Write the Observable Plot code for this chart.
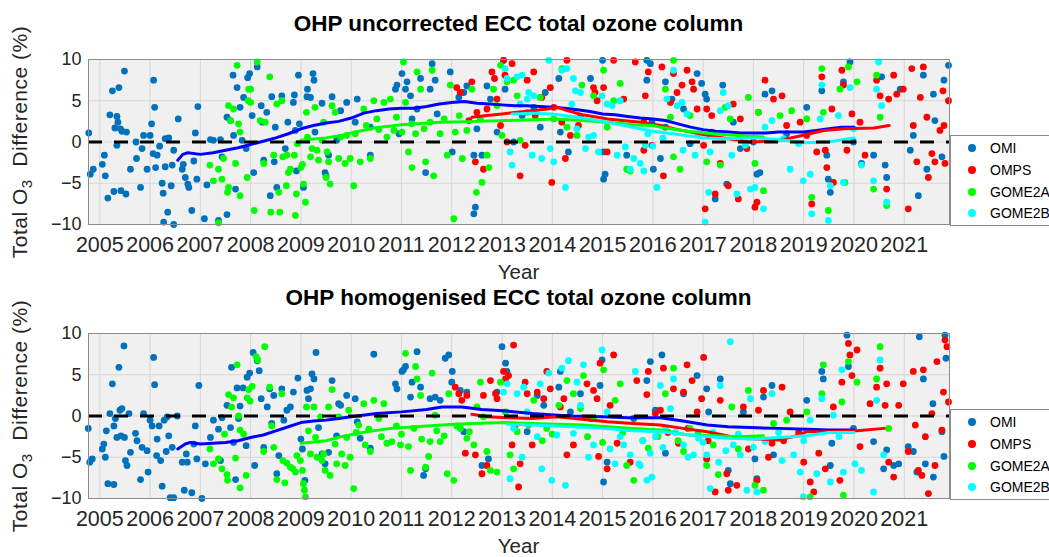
<!DOCTYPE html>
<html><head><meta charset="utf-8">
<script src="https://cdn.jsdelivr.net/npm/d3@7"></script>
<script src="https://cdn.jsdelivr.net/npm/@observablehq/plot@0.6"></script>
<style>
body{margin:0;background:#fff;}
#wrap{position:relative;width:1049px;height:557px;overflow:hidden;background:#fff;font-family:"Liberation Sans",Arial,sans-serif;color:#262626;}
.panel{position:absolute;left:0;}
.title{position:absolute;left:88px;width:861px;text-align:center;font-weight:bold;font-size:22.5px;line-height:26px;color:#000;}
.xlab{position:absolute;left:88px;width:861px;text-align:center;font-size:20.5px;line-height:16px;}
.ylab{position:absolute;width:280px;height:24px;line-height:24px;text-align:center;font-size:21px;letter-spacing:0.5px;transform:rotate(-90deg);white-space:nowrap;}
.ylab sub{font-size:15px;vertical-align:-5px;line-height:0;}
.legend{position:absolute;left:950px;width:120px;height:89px;border:1px solid #8c8c8c;background:#fff;font-size:14px;}
.legend .it{position:absolute;left:0;height:16px;line-height:16px;}
.legend .dot{position:absolute;left:17px;top:4px;width:8px;height:8px;border-radius:50%;}
.legend .tx{position:absolute;left:39px;top:0;white-space:nowrap;color:#000;}
</style>
</head><body>
<div id="wrap"></div>
<script>
// ---------- data ----------
const years = [2005,2006,2007,2008,2009,2010,2011,2012,2013,2014,2015,2016,2017,2018,2019,2020,2021];
const yTicks = [-10,-5,0,5,10];
const seriesNames = ["OMI","OMPS","GOME2A","GOME2B"];
const dotColors = ["#0072BD","#FF0000","#00FF00","#00FFFF"];
const lineColors = ["#0000FF","#FF0000","#00FF00","#00FFFF"];
const titles = ["OHP uncorrected ECC total ozone column","OHP homogenised ECC total ozone column"];

// ---- top panel: uncorrected ----
const omiTop = [[2004.78,1.1],[2004.81,-3.9],[2004.87,-3.3],[2005.05,-2.7],[2005.11,-4.1],[2005.09,-1.6],[2005.16,-6.8],[2005.2,3.3],[2005.25,6.2],[2005.28,-6.0],[2005.3,1.7],[2005.34,-0.4],[2005.34,3.1],[2005.38,6.6],[2005.36,2.4],[2005.41,1.6],[2005.42,-5.9],[2005.44,1.3],[2005.49,8.6],[2005.52,-6.3],[2005.53,1.2],[2005.61,-3.3],[2005.72,0],[2005.73,-2.0],[2005.81,-5.5],[2005.84,-0.8],[2005.87,0.8],[2005.94,-3.3],[2006.0,0.8],[2006.03,2.2],[2006.07,7.5],[2006.09,4.2],[2006.06,-1.4],[2006.11,-3.1],[2006.14,-1.6],[2006.19,-0.5],[2006.24,-5.0],[2006.26,-6.2],[2006.27,-9.7],[2006.3,0.4],[2006.3,-3.0],[2006.35,-8.5],[2006.37,0.5],[2006.42,-5.3],[2006.44,-2.8],[2006.47,-10],[2006.47,-1.0],[2006.56,2.8],[2006.64,-3.3],[2006.66,-2.7],[2006.7,-4.3],[2006.75,-5.1],[2006.77,-5.5],[2006.83,-8.3],[2006.87,-2.3],[2006.9,1.1],[2006.95,4.3],[2006.93,-4.5],[2007.08,-9.3],[2007.13,-5.2],[2007.2,0.3],[2007.26,0.2],[2007.36,-9.5],[2007.4,0.3],[2007.43,-1.8],[2007.53,-8.8],[2007.53,3.0],[2007.6,2.6],[2007.65,8.1],[2007.66,0.8],[2007.7,-5.7],[2007.73,6.6],[2007.79,4.2],[2007.83,0.2],[2007.86,5.4],[2007.91,-0.8],[2007.94,7.8],[2007.98,8.3],[2008.03,3.2],[2008.06,-3.7],[2008.13,9.1],[2008.21,4.4],[2008.23,2.4],[2008.26,-2.2],[2008.32,3.6],[2008.39,-6.5],[2008.42,5.5],[2008.47,-2.4],[2008.49,1.8],[2008.52,-5.5],[2008.62,5.6],[2008.69,-0.8],[2008.74,2.4],[2008.85,4.8],[2008.87,5.7],[2008.89,1.4],[2008.91,-3.5],[2008.95,8.1],[2008.97,2.2],[2009.05,-5.5],[2009.12,5.5],[2009.13,6.4],[2009.19,5.4],[2009.24,8.3],[2009.26,7.5],[2009.28,1.2],[2009.42,4.7],[2009.48,-3.7],[2009.5,-4.1],[2009.55,-1.6],[2009.62,5.5],[2009.71,0.2],[2009.79,3.8],[2009.91,4.8],
[2010.08,2.4],[2010.12,5.2],[2010.38,1.8],[2010.38,-1.6],[2010.95,1.0],[2010.88,6.4],[2010.91,6.9],[2011.01,8.3],[2011.08,6.4],[2011.11,7.3],[2011.18,5.6],[2011.21,2.8],[2011.31,4.0],[2011.48,-3.7],[2011.38,7.7],[2011.57,6.4],[2011.61,9.5],[2011.67,7.5],[2011.71,3.4],[2011.97,8.5],[2012.01,-1.2],[2012.14,5.4],[2012.24,6.0],[2012.3,6.8],[2012.44,-1.6],[2012.47,-7.9],[2012.44,-8.7],[2012.5,1.6],[2012.6,-1.6],[2012.7,6.8],[2012.77,5.2],[2012.9,1.2],[2013.06,6.4],[2013.03,9.9],[2013.23,0],[2013.4,3.2],[2013.63,4.2],[2013.76,1.8],[2013.86,6.0],[2014.13,7.7],[2014.16,1.2],[2014.32,-1.2],[2014.56,3.0],[2014.76,7.7],[2015.0,9.9],[2015.02,-1.2],[2015.05,-3.9],[2015.02,-4.5],[2015.48,-1.6],
[2015.88,9.9],[2015.95,9.5],[2016.25,7.3],[2015.88,7.5],[2015.98,2.4],[2016.01,-3.3],[2016.15,-2.0],[2016.25,1.8],[2016.38,5.2],[2016.61,4.0],[2016.74,-0.2],[2016.88,8.3],[2016.97,7.1],[2017.04,5.8],[2017.07,5.2],[2017.17,1.2],[2017.24,-6.9],[2017.39,6.9],[2017.47,-5.1],[2017.6,2.4],[2017.74,-0.8],[2018.0,0],[2018.07,-3.9],[2018.13,-3.7],[2018.23,5.8],[2018.37,6.2],[2018.66,1.0],[2019.06,4.2],[2019.36,6.2],[2019.46,-1.6],[2019.49,-4.5],[2019.53,-6.1],[2019.79,7.3],[2019.92,9.7],[2019.99,0],[2020.15,-2.6],[2020.39,-1.6],[2020.55,7.9],[2020.62,-2.8],[2020.65,-4.3],[2020.92,6.4],[2021.12,-1.0],[2021.18,0.8],[2021.28,-6.5],[2021.38,8.1],[2021.45,-3.3],[2021.58,5.8],[2021.61,2.6],[2021.75,-1.8],[2021.79,7.5],[2021.88,9.3]];

const ompsTop = [[2012.1,6.6],[2012.17,6.0],[2012.34,2.6],[2012.4,7.3],[2012.47,-2.4],[2012.5,3.6],[2012.63,-3.3],[2012.7,4.0],[2012.8,8.5],[2012.85,7.7],[2012.9,5.2],[2012.97,2.0],[2013.03,9.9],[2013.06,8.1],[2013.1,0],[2013.2,9.5],[2013.36,-4.1],[2013.46,-0.4],[2013.5,7.5],[2013.63,8.5],[2013.66,3.2],[2013.79,5.4],[2013.96,6.6],[2013.99,-4.9],[2014.03,4.2],[2014.19,2.4],[2014.26,-2.0],[2014.29,9.9],[2014.36,0.8],[2014.52,2.0],[2014.82,6.6],[2014.85,6.0],[2014.89,5.0],[2015.02,6.6],[2015.09,-1.2],[2015.22,9.9],[2015.42,5.2],[2015.65,9.7],
[2015.85,5.6],[2015.91,8.5],[2015.82,2.4],[2015.82,-1.0],[2015.98,-0.4],[2016.18,9.1],[2016.21,-4.1],[2016.35,4.8],[2016.41,8.3],[2016.48,6.0],[2016.58,6.9],[2016.68,8.7],[2016.78,7.3],[2016.81,6.4],[2016.88,4.0],[2017.01,-0.4],[2017.04,-8.1],[2017.07,4.0],[2017.17,3.2],[2017.24,-6.3],[2017.34,-2.6],[2017.5,-5.3],[2017.6,4.6],[2017.7,-6.9],[2017.74,2.8],[2017.87,-0.8],[2018.03,-7.9],[2018.07,-7.3],[2018.1,3.6],[2018.23,7.5],[2018.4,5.2],[2018.57,5.6],[2018.66,2.0],[2018.93,2.4],[2019.06,0.8],[2019.16,-7.5],[2019.26,-1.2],[2019.36,7.9],[2019.43,-1.0],[2019.46,-3.1],[2019.56,4.0],[2019.59,-4.9],[2019.76,8.7],[2019.79,6.9],[2019.86,-1.0],[2019.96,3.4],[2020.12,2.4],[2020.22,-1.6],[2020.45,7.5],[2020.52,5.6],[2020.65,-5.7],[2020.69,5.2],[2020.79,8.1],[2020.85,5.8],[2020.98,6.4],[2021.08,-8.1],[2021.15,8.9],[2021.18,2.0],[2021.25,-2.4],[2021.32,5.4],[2021.38,9.1],[2021.45,3.0],[2021.48,-4.3],[2021.55,-1.4],[2021.61,-2.4],[2021.71,1.4],[2021.77,6.2],[2021.79,2.0],[2021.81,-2.6],[2021.88,5.0]];

const gome2aTop = [[2007.19,-2.8],[2007.26,-4.7],[2007.36,-3.3],[2007.36,-9.8],[2007.43,-4.5],[2007.46,-2.0],[2007.54,-6.1],[2007.56,-5.5],[2007.56,4.4],[2007.6,2.6],[2007.66,4.0],[2007.7,-2.6],[2007.73,9.3],[2007.76,2.2],[2007.79,-6.5],[2007.79,1.2],[2007.93,-4.3],[2007.95,5.0],[2007.96,6.4],[2008.0,6.4],[2008.0,4.8],[2008.07,-8.3],[2008.13,9.7],[2008.19,2.6],[2008.26,-2.6],[2008.29,2.4],[2008.38,7.9],[2008.4,-8.5],[2008.46,-1.6],[2008.52,4.6],[2008.56,-6.1],[2008.58,-8.5],[2008.62,5.0],[2008.64,-1.8],[2008.71,-5.3],[2008.72,-1.6],[2008.75,-3.7],[2008.79,-3.3],[2008.87,-1.6],[2008.89,-8.9],[2008.91,-6.3],[2008.93,-0.2],[2009.0,-3.1],[2009.03,-2.7],[2009.05,-5.1],[2009.09,-7.3],[2009.11,3.6],[2009.13,0.6],[2009.19,-1.8],[2009.22,-0.8],[2009.28,4.2],[2009.32,-1.0],[2009.35,-2.2],[2009.42,0.2],[2009.45,2.4],[2009.5,-4.3],[2009.52,-1.2],[2009.55,-2.4],[2009.58,-5.1],[2009.62,4.4],[2009.68,3.6],[2009.75,-2.0],[2009.79,0.6],[2009.88,-2.6],[2009.91,0.8],
[2009.98,-2.0],[2010.05,-5.3],[2010.08,1.0],[2010.25,4.0],[2010.18,-2.4],[2010.38,-2.0],[2010.45,5.0],[2010.51,2.8],[2010.65,4.8],[2010.71,0.6],[2010.78,5.2],[2010.85,1.4],[2011.01,1.2],[2011.04,9.7],[2011.08,4.8],[2011.14,-1.2],[2011.21,-3.1],[2011.28,1.0],[2011.31,8.5],[2011.38,6.4],[2011.48,-2.4],[2011.57,2.4],[2011.61,8.7],[2011.64,-4.1],[2011.77,1.0],[2011.91,-1.6],[2011.97,6.9],[2012.04,-9.3],[2012.07,1.2],[2012.21,-2.0],[2012.3,1.4],[2012.4,6.4],[2012.49,-6.1],[2012.57,2.8],[2012.6,-4.9],[2012.7,-1.6],[2012.74,-3.1],[2012.83,6.4],[2012.9,4.4],[2012.97,9.3],[2013.0,0.8],[2013.1,7.3],[2013.23,7.5],[2013.3,5.6],[2013.36,0.2],[2013.5,3.6],[2013.76,5.4],[2014.03,2.8],[2014.19,8.9],[2014.29,1.8],[2014.49,0.8],[2014.59,6.9],[2014.82,5.6],[2015.02,8.7],[2015.09,1.8],[2015.22,5.0],[2015.35,7.1],[2015.48,-3.3],[2015.55,-3.5],
[2010.3,2.0],[2010.55,1.5],[2010.9,3.0],[2011.2,2.2],[2011.45,1.6],[2011.85,2.8],[2012.15,3.2],
[2016.41,9.9],[2016.25,6.4],[2016.35,3.0],[2016.41,-1.8],[2016.54,-3.3],[2016.74,3.2],[2017.07,-2.4],[2017.34,-2.8],[2017.44,4.2],[2017.54,2.8],[2017.9,5.4],[2018.03,-2.6],[2018.1,3.6],[2018.2,-5.9],[2018.53,3.2],[2018.76,3.8],[2019.06,2.8],[2019.16,-6.7],[2019.36,8.9],[2019.39,3.6],[2019.49,-8.3],[2019.72,6.4],[2019.82,-4.9],[2019.89,9.1],[2020.06,7.3],[2020.39,-5.7],[2020.45,8.1],[2020.52,3.0],[2020.65,-7.7]];

const gome2bTop = [[2013.06,8.9],[2013.1,7.7],[2013.16,-1.2],[2013.2,-2.8],[2013.3,7.9],[2013.36,4.6],[2013.4,8.1],[2013.5,5.2],[2013.53,6.0],[2013.6,-1.6],[2013.63,5.6],[2013.79,-2.0],[2013.93,9.9],[2013.96,-0.8],[2014.03,-2.4],[2014.19,8.7],[2014.29,8.9],[2014.39,4.6],[2014.42,7.7],[2014.46,6.2],[2014.49,1.6],[2014.56,6.0],[2014.66,-0.8],[2014.72,0.6],[2014.82,0.8],[2014.92,-1.2],[2014.99,5.6],[2015.09,4.6],[2015.19,4.4],[2015.29,-1.6],[2015.35,5.0],[2015.45,-0.6],[2015.55,-3.3],[2015.62,-2.0],[2014.26,-5.5],
[2015.75,-2.6],[2015.82,-3.5],[2015.85,-0.4],[2016.08,-5.5],[2016.28,5.2],[2016.41,8.7],[2016.48,4.4],[2016.58,4.8],[2016.68,3.4],[2016.84,-1.6],[2017.04,-9.7],[2017.11,-6.1],[2017.14,-1.2],[2017.34,3.8],[2017.4,6.0],[2017.5,4.4],[2017.57,-1.6],[2017.67,-6.3],[2017.84,-0.4],[2017.94,-5.7],[2018.03,-5.5],[2018.2,-8.1],[2018.23,1.8],[2018.37,2.6],[2018.6,0.4],[2018.73,-3.3],[2018.9,-0.2],[2018.99,-4.7],[2019.13,-3.9],[2019.16,-8.7],[2019.33,2.8],[2019.36,6.9],[2019.49,-9.5],[2019.53,-5.3],[2019.69,3.2],[2019.79,-4.9],[2019.92,6.6],[2019.99,1.6],[2020.15,-2.8],[2020.39,-4.7],[2020.45,6.4],[2020.49,9.7],[2020.55,4.4],[2020.65,-7.3],
[2015.9,1.0],[2016.0,-0.5],[2016.2,0.5],[2016.6,-1.0],[2016.9,1.0]];

const omiTopMean = [[2006.55,-2.2],[2006.65,-1.5],[2006.75,-1.3],[2007.0,-1.5],[2007.25,-1.3],[2007.5,-1.0],[2007.75,-0.7],[2008.0,-0.3],[2008.25,0.1],[2008.5,0.5],[2008.75,1.0],[2009.0,1.6],[2009.25,2.0],[2009.5,2.3],[2009.75,2.5],[2010.0,2.9],[2010.25,3.5],[2010.5,3.8],[2010.75,4.0],[2011.0,4.1],[2011.25,4.1],[2011.5,4.3],[2011.75,4.6],[2012.0,4.8],[2012.25,4.9],[2012.5,4.7],[2012.75,4.6],[2013.0,4.5],[2013.25,4.4],[2013.5,4.4],[2013.75,4.3],[2014.0,4.2],[2014.25,4.1],[2014.5,3.9],[2014.75,3.7],[2015.0,3.4],[2015.25,3.3],[2015.5,3.1],[2015.75,2.9],[2016.0,2.8],[2016.25,2.6],[2016.5,2.2],[2016.75,1.8],[2017.0,1.5],[2017.25,1.3],[2017.5,1.2],[2017.75,1.1],[2018.0,1.1],[2018.25,1.1],[2018.5,1.2],[2018.75,1.2],[2019.0,1.2],[2019.25,1.4],[2019.5,1.6],[2019.75,1.8],[2020.0,1.8]];
const ompsTopMean = [[2012.4,3.0],[2012.7,3.2],[2013.0,3.4],[2013.3,3.6],[2013.6,3.8],[2013.9,4.0],[2014.1,4.2],[2014.3,3.8],[2014.6,3.3],[2014.9,3.0],[2015.1,2.8],[2015.4,2.6],[2015.75,2.4],[2016.15,2.0],[2016.5,1.5],[2017.08,0.8],[2017.5,0.4],[2017.94,0.0],[2018.3,0.1],[2018.6,0.3],[2018.9,0.7],[2019.4,1.4],[2019.8,1.6],[2020.4,1.7],[2020.7,2.0]];
const gome2aTopMean = [[2009.0,0.2],[2009.5,0.5],[2009.8,0.8],[2010.45,1.7],[2011.0,2.1],[2011.78,2.4],[2012.5,2.5],[2013.1,2.6],[2013.6,2.7],[2014.09,2.8],[2014.6,2.6],[2015.1,2.4],[2015.6,2.1],[2016.0,2.0],[2016.15,1.8],[2016.7,1.3],[2017.2,1.0],[2017.7,0.8],[2018.2,0.6]];
const gome2bTopMean = [[2013.2,3.4],[2013.6,3.5],[2014.0,3.4],[2014.5,3.0],[2015.0,2.5],[2015.5,1.9],[2016.0,1.3],[2016.5,0.9],[2017.0,0.5],[2017.5,0.4],[2018.0,0.5],[2018.5,0.3],[2019.0,-0.1],[2019.5,0.0],[2020.0,0.5]];

// ---- bottom panel: homogenised ----
const omiBot = [[2004.77,-1.5],[2004.8,-5.6],[2004.85,-5.2],[2005.05,-4.0],[2005.08,-3.4],[2005.11,-5.0],[2005.13,-1.8],[2005.16,-8.2],[2005.2,0.3],[2005.25,3.9],[2005.28,-8.3],[2005.28,-1.2],[2005.31,-0.3],[2005.34,-2.6],[2005.38,5.9],[2005.4,0.7],[2005.42,-2.4],[2005.44,0.9],[2005.48,8.5],[2005.49,-2.6],[2005.51,-5.4],[2005.54,-6.0],[2005.58,0.3],[2005.61,-4.4],[2005.71,-2.1],[2005.74,-3.0],[2005.81,-7.7],[2005.84,-3.8],[2005.87,0.3],[2005.94,-4.2],[2005.96,-6.8],[2006.0,-0.5],[2006.04,-1.2],[2006.07,7.1],[2006.09,3.8],[2006.13,-4.8],[2006.14,-2.8],[2006.18,-1.2],[2006.21,-5.4],[2006.24,-8.5],[2006.28,-0.5],[2006.32,-4.3],[2006.34,-0.1],[2006.37,-2.4],[2006.4,-9.9],[2006.47,-9.9],[2006.44,-3.8],[2006.54,0],[2006.64,-5.6],[2006.68,-9.0],[2006.72,-4.6],[2006.74,-5.6],[2006.83,-9.3],[2006.87,-3.4],[2006.9,-1.2],[2006.97,3.7],[2006.93,-5.2],[2007.03,-10],[2007.1,-5.8],[2007.2,-2.6],[2007.26,-0.5],[2007.36,-1.6],[2007.4,-5.4],[2007.43,-0.2],[2007.53,1.3],[2007.6,-1.4],[2007.62,5.9],[2007.66,-3.2],[2007.7,-7.7],[2007.73,3.4],[2007.76,-0.3],[2007.79,1.2],[2007.85,3.4],[2007.91,-3.6],[2007.93,4.7],[2007.98,5.2],[2008.05,7.7],[2008.08,-6.0],[2008.13,6.7],[2008.17,5.5],[2008.21,2.1],[2008.26,-3.8],[2008.33,1.1],[2008.38,3.3],[2008.42,-0.9],[2008.46,2.5],[2008.52,-7.0],[2008.56,-4.8],[2008.62,3.3],[2008.66,-0.5],[2008.72,0.7],[2008.79,1.1],[2008.85,2.9],[2008.94,4.6],[2009.0,-2.8],[2009.03,-4.0],[2009.08,-7.8],[2009.12,3.1],[2009.15,2.1],[2009.19,3.3],[2009.22,5.1],[2009.26,4.5],[2009.3,7.7],[2009.35,-1.4],[2009.42,-4.6],[2009.48,-5.8],[2009.55,-4.4],[2009.62,4.3],[2009.71,-2.4],[2009.75,1.5],[2009.79,1.3],[2009.91,2.5],
[2010.08,2.1],[2010.12,-0.7],[2010.18,-2.7],[2010.45,7.5],[2010.38,-3.9],[2010.88,3.9],[2010.91,3.3],[2011.01,5.4],[2011.04,5.6],[2011.08,6.0],[2011.18,2.3],[2011.21,4.1],[2011.31,7.8],[2011.38,3.5],[2011.44,-7.2],[2011.48,-6.4],[2011.57,2.1],[2011.67,2.3],[2011.77,1.9],[2011.87,7.0],[2011.94,7.4],[2012.01,5.4],[2012.0,4.1],[2012.17,3.1],[2012.24,-1.9],[2012.3,2.9],[2012.6,-6.0],[2012.73,-5.2],[2012.9,2.9],[2013.0,8.4],[2013.07,6.4],[2013.1,5.4],[2013.5,-1.9],[2013.7,2.5],[2013.83,1.3],[2014.13,3.5],[2014.16,5.4],[2014.36,0.5],[2014.56,2.7],[2014.76,-0.3],[2014.95,3.7],[2014.99,6.8],[2015.02,-8.0],[2015.09,-5.6],[2015.62,-0.3],
[2015.88,4.3],[2015.95,6.6],[2016.05,0.7],[2016.18,7.4],[2016.25,-4.5],[2016.61,2.7],[2016.88,4.9],[2017.07,3.3],[2017.11,0.5],[2017.34,4.5],[2017.5,-6.6],[2017.54,-8.2],[2017.8,0.5],[2018.03,-5.2],[2018.07,-7.6],[2018.2,2.3],[2018.37,3.7],[2018.4,-4.7],[2019.06,1.9],[2019.36,5.4],[2019.39,4.5],[2019.53,-6.0],[2019.56,-3.3],[2019.86,9.8],[2019.89,6.0],[2019.99,-1.5],[2020.39,-3.1],[2020.59,-6.4],[2020.65,-4.1],[2020.79,-6.0],[2020.89,-5.8],[2021.08,-3.7],[2021.18,-4.3],[2021.25,-6.8],[2021.3,9.6],[2021.38,4.5],[2021.42,-5.8],[2021.57,1.5],[2021.58,-7.4],[2021.75,-1.9],[2021.79,-4.9],[2021.81,9.8],[2021.83,7.0]];

const ompsBot = [[2012.07,3.5],[2012.14,2.7],[2012.2,1.9],[2012.27,-4.5],[2012.3,2.5],[2012.47,-4.7],[2012.6,-7.0],[2012.63,2.5],[2012.7,-6.0],[2012.77,4.3],[2012.87,2.7],[2012.9,2.1],[2013.03,5.4],[2013.07,4.5],[2013.13,4.9],[2013.2,-3.5],[2013.23,8.6],[2013.26,-1.1],[2013.33,-8.6],[2013.36,-5.8],[2013.46,4.1],[2013.5,2.7],[2013.6,-3.5],[2013.7,2.9],[2013.83,2.1],[2013.89,5.4],[2013.96,3.3],[2014.16,1.1],[2014.23,2.1],[2014.29,-4.7],[2014.42,-3.5],[2014.69,3.9],[2014.82,3.1],[2014.89,2.1],[2014.92,-4.9],[2014.95,6.4],[2015.09,-6.4],[2015.15,1.3],[2015.22,7.4],[2015.29,-3.3],[2015.55,-5.6],[2015.68,4.3],
[2015.88,2.6],[2015.91,5.4],[2016.05,0.3],[2016.15,0.7],[2016.21,5.8],[2016.41,3.3],[2016.51,-3.3],[2016.61,2.9],[2016.68,6.2],[2016.78,4.3],[2016.88,0.5],[2016.97,2.1],[2017.01,7.1],[2017.07,-5.2],[2017.24,-9.2],[2017.34,1.9],[2017.47,-7.0],[2017.5,-9.0],[2017.67,-8.4],[2017.8,1.1],[2018.07,-7.8],[2018.1,0.7],[2018.2,3.1],[2018.37,-3.3],[2018.57,3.5],[2018.73,0.5],[2019.0,-5.6],[2019.13,-8.0],[2019.2,-9.2],[2019.43,-6.4],[2019.59,1.1],[2019.72,-7.8],[2019.76,4.1],[2019.89,8.8],[2019.92,7.4],[2019.96,4.9],[2020.06,8.0],[2020.12,-3.7],[2020.32,1.5],[2020.45,3.5],[2020.52,5.8],[2020.62,1.3],[2020.65,3.9],[2020.69,-5.6],[2020.79,-7.4],[2020.89,1.3],[2020.98,3.9],[2021.08,-4.3],[2021.18,5.4],[2021.22,-1.1],[2021.28,-6.6],[2021.35,-7.2],[2021.38,5.6],[2021.42,-2.5],[2021.48,-9.4],[2021.55,0.3],[2021.61,-6.0],[2021.65,6.6],[2021.75,-1.7],[2021.78,2.9],[2021.81,9.2],[2021.85,8.4],[2021.88,1.7],
[2016.3,-2.0],[2016.7,-1.5],[2017.1,-3.0],[2017.9,-4.0],[2018.3,-5.0],[2018.6,-3.0],[2018.9,-2.0],[2019.3,-4.5]];

const gome2aBot = [[2007.19,-4.0],[2007.26,-5.8],[2007.36,-5.2],[2007.43,-6.4],[2007.48,-2.2],[2007.53,-7.1],[2007.54,-7.8],[2007.56,2.6],[2007.62,1.1],[2007.66,2.2],[2007.7,-5.1],[2007.73,6.2],[2007.76,0],[2007.79,-8.7],[2007.79,-1.7],[2007.86,-2.2],[2007.91,-7.2],[2007.93,2.2],[2007.96,3.2],[2007.99,1.8],[2008.03,3.6],[2008.11,7.2],[2008.14,6.8],[2008.26,-4.3],[2008.28,8.4],[2008.38,3.5],[2008.42,-1.2],[2008.46,-3.8],[2008.52,-7.7],[2008.62,2.7],[2008.64,-5.4],[2008.68,-8.1],[2008.72,-5.7],[2008.79,-6.2],[2008.84,-6.4],[2008.89,-6.8],[2008.92,-4.8],[2008.99,-5.4],[2009.03,-6.6],[2009.05,-8.2],[2009.07,-9.0],[2009.09,-9.8],[2009.11,1.1],[2009.15,-1.8],[2009.19,-4.6],[2009.26,1.1],[2009.29,-2.6],[2009.32,-5.0],[2009.39,-0.1],[2009.42,-5.4],[2009.45,-4.6],[2009.48,-6.6],[2009.55,1.1],[2009.58,-7.2],[2009.62,3.2],[2009.68,-3.4],[2009.71,-5.8],[2009.75,-0.1],[2009.81,-4.6],[2009.88,-6.0],[2009.91,-2.6],
[2009.95,0.7],[2009.98,-5.0],[2010.05,-8.8],[2010.15,-1.1],[2010.25,1.5],[2010.28,-3.5],[2010.38,-4.3],[2010.45,1.9],[2010.55,-0.3],[2010.65,1.5],[2010.71,-3.3],[2010.81,-3.1],[2010.98,-3.5],[2011.08,7.6],[2011.14,-3.7],[2011.18,-6.6],[2011.28,6.0],[2011.31,4.5],[2011.38,2.5],[2011.48,-6.2],[2011.54,-4.9],[2011.57,-3.1],[2011.61,5.2],[2011.67,0.1],[2011.77,-3.1],[2011.91,-7.0],[2011.94,2.7],[2012.04,-7.8],[2012.17,-1.5],[2012.3,-2.7],[2012.44,-3.5],[2012.5,1.1],[2012.57,4.1],[2012.63,-0.1],[2012.7,-4.3],[2012.77,-6.6],[2012.9,-6.8],[2012.97,4.1],[2013.07,0.5],[2013.16,-4.7],[2013.23,-6.4],[2013.3,-1.9],[2013.53,-1.1],[2013.63,1.9],[2013.89,-1.5],[2014.13,1.3],[2014.29,4.3],[2014.42,2.7],[2014.56,0.9],[2014.62,4.9],[2014.82,-0.3],[2015.02,5.6],[2015.25,1.9],[2015.35,3.9],[2015.48,-6.0],[2015.62,-7.8],
[2010.1,-2.0],[2010.35,-1.6],[2010.6,-2.5],[2010.9,-1.2],[2011.0,-2.2],[2011.25,-1.5],[2011.4,-2.8],[2011.7,-1.8],[2011.85,-2.4],[2012.1,-1.2],[2012.35,-1.9],[2013.8,-3.0],[2014.0,-2.2],[2014.7,-2.5],[2015.0,-3.2],[2015.4,-2.0],[2015.8,-3.0],
[2015.91,-3.9],[2016.25,2.7],[2016.41,5.8],[2016.61,-4.3],[2016.74,-1.5],[2017.07,-6.0],[2017.3,-7.1],[2017.57,1.1],[2017.9,3.1],[2018.03,-8.4],[2018.2,-9.0],[2018.4,-0.9],[2018.66,-0.5],[2019.06,0.5],[2019.13,-9.8],[2019.36,2.7],[2019.39,6.2],[2019.76,1.7],[2019.79,-9.6],[2019.89,6.6],[2020.06,4.1],[2020.45,4.5],[2020.52,8.4],[2020.69,-1.5],
[2016.1,-2.5],[2016.5,-3.0],[2016.9,-2.0],[2017.2,-3.5],[2017.7,-4.0]];

const gome2bBot = [[2013.03,2.9],[2013.1,3.9],[2013.16,-7.6],[2013.23,-1.5],[2013.3,2.7],[2013.4,-5.0],[2013.43,3.5],[2013.5,0.5],[2013.7,-2.5],[2013.76,3.9],[2013.79,-6.4],[2013.93,5.2],[2013.99,-7.8],[2014.09,-2.3],[2014.19,5.8],[2014.26,-8.4],[2014.32,6.7],[2014.42,-2.1],[2014.49,4.1],[2014.56,1.3],[2014.62,6.2],[2014.72,-5.0],[2014.82,-3.5],[2014.99,8.0],[2015.09,0.5],[2015.25,-5.8],[2015.42,-3.5],[2015.55,-4.7],[2015.65,5.4],[2015.72,-5.8],[2015.15,-4.0],[2015.35,-2.5],[2015.8,-3.0],
[2015.75,-6.0],[2015.88,-7.8],[2015.98,-7.4],[2016.15,3.7],[2016.25,-1.5],[2016.35,0.9],[2016.41,4.5],[2016.61,-3.5],[2016.81,-4.7],[2016.91,-2.7],[2017.07,-4.7],[2017.14,-8.8],[2017.31,-5.6],[2017.34,3.7],[2017.54,9.0],[2017.6,-3.5],[2017.74,-4.7],[2017.87,-9.0],[2017.94,2.1],[2018.07,-9.2],[2018.23,-3.1],[2018.37,2.7],[2018.57,-5.4],[2018.8,-4.7],[2018.93,-6.8],[2018.99,-9.8],[2019.13,-0.5],[2019.26,-7.0],[2019.36,2.1],[2019.53,-8.0],[2019.59,0.1],[2019.76,5.6],[2019.79,-6.8],[2020.02,-5.8],[2020.15,-6.6],[2020.39,-9.2],[2020.45,1.9],[2020.52,6.8],[2020.59,-4.7],
[2015.95,-4.5],[2016.05,-2.5],[2016.2,-3.8],[2016.45,-2.0],[2016.7,-5.0],[2017.0,-3.2],[2017.2,-2.0],[2017.45,-4.2],[2017.7,-2.2],[2018.0,-3.8],[2018.5,-2.0],[2019.0,-3.0],[2019.7,-2.5]];

const omiBotMean = [[2006.55,-4.0],[2006.7,-3.4],[2006.8,-3.2],[2007.0,-3.4],[2007.25,-3.3],[2007.5,-3.2],[2007.75,-3.0],[2008.0,-2.6],[2008.25,-2.3],[2008.5,-1.8],[2008.75,-1.3],[2009.0,-0.8],[2009.25,-0.6],[2009.5,-0.5],[2009.75,-0.3],[2010.0,-0.1],[2010.5,0.3],[2011.0,0.5],[2011.5,0.8],[2011.8,1.1],[2012.2,1.1],[2012.6,0.8],[2013.1,0.6],[2013.6,0.3],[2014.1,0.1],[2014.4,0.0],[2015.0,-0.1],[2015.5,-0.2],[2016.15,-0.2],[2016.6,-0.6],[2017.08,-1.1],[2017.5,-1.3],[2017.94,-1.4],[2018.5,-1.5],[2019.07,-1.6],[2019.5,-1.7],[2020.0,-1.7]];
const ompsBotMean = [[2012.4,0.2],[2012.7,-0.1],[2013.1,-0.2],[2013.6,-0.3],[2014.09,-0.1],[2014.6,-0.4],[2015.1,-0.7],[2015.6,-0.9],[2016.15,-1.1],[2016.6,-1.5],[2017.08,-1.9],[2017.4,-2.3],[2017.7,-2.7],[2018.1,-2.8],[2018.5,-2.9],[2018.8,-2.5],[2019.07,-1.9],[2019.5,-1.9],[2020.06,-1.8],[2020.6,-1.5]];
const gome2aBotMean = [[2009.0,-3.3],[2009.5,-3.0],[2009.8,-2.5],[2010.3,-1.9],[2010.8,-1.5],[2011.3,-1.3],[2011.8,-1.1],[2012.4,-0.9],[2013.1,-0.8],[2013.6,-0.9],[2014.09,-1.0],[2014.6,-1.1],[2015.1,-1.3],[2015.6,-1.5],[2016.15,-1.7],[2016.7,-2.3],[2017.2,-2.4],[2017.7,-2.5],[2018.2,-2.4]];
const gome2bBotMean = [[2013.1,-1.0],[2013.6,-1.1],[2014.4,-1.3],[2015.0,-1.5],[2015.6,-1.8],[2016.15,-1.9],[2016.6,-2.2],[2017.08,-2.5],[2017.5,-2.7],[2018.0,-2.8],[2018.5,-2.6],[2019.07,-2.4],[2019.5,-2.0],[2020.0,-2.0]];

// ---------- drawing ----------
const panels = [
  {dots:[omiTop,ompsTop,gome2aTop,gome2bTop], means:[omiTopMean,ompsTopMean,gome2aTopMean,gome2bTopMean]},
  {dots:[omiBot,ompsBot,gome2aBot,gome2bBot], means:[omiBotMean,ompsBotMean,gome2aBotMean,gome2bBotMean]}
];
const PANEL_H = 274;
const wrap = document.getElementById("wrap");

panels.forEach((p, i) => {
  const top = i * PANEL_H;
  const marks = [
    Plot.frame({fill:"#f0f0f0", stroke:null}),
    Plot.gridX({ticks: years, stroke:"#d6d6d6", strokeOpacity:1, strokeWidth:1}),
    Plot.gridY({ticks: [-5,0,5], stroke:"#d6d6d6", strokeOpacity:1, strokeWidth:1})
  ];
  p.dots.forEach((arr, k) => {
    marks.push(Plot.dot(arr, {x: d => d[0], y: d => d[1], r: 3.4, fill: dotColors[k], stroke: null}));
  });
  p.means.forEach((arr, k) => {
    marks.push(Plot.line(arr, {x: d => d[0], y: d => d[1], stroke: lineColors[k], strokeWidth: 3}));
  });
  marks.push(Plot.ruleY([0], {stroke:"#000", strokeWidth:3, strokeDasharray:"14,12"}));
  marks.push(Plot.frame({stroke:"#8c8c8c", strokeWidth:1}));
  marks.push(Plot.axisX({ticks: years, tickFormat: d => String(d), tickSize: 0, tickPadding: 12, label: null, fontSize: 21.5}));
  marks.push(Plot.axisY({ticks: yTicks, tickSize: 0, tickPadding: 7, label: null, fontSize: 18}));

  const svg = Plot.plot({
    width: 951, height: PANEL_H,
    marginLeft: 88, marginRight: 2, marginTop: 59, marginBottom: 50,
    x: {domain: [2004.775, 2021.9]},
    y: {domain: [-10, 10]},
    style: {fontFamily: '"Liberation Sans", Arial, sans-serif', fontSize: "20px", color: "#262626", background: "transparent", overflow: "visible"},
    marks
  });
  const holder = document.createElement("div");
  holder.className = "panel";
  holder.style.top = top + "px";
  holder.appendChild(svg);
  wrap.appendChild(holder);

  const t = document.createElement("div");
  t.className = "title"; t.style.top = (11 + top) + "px"; t.textContent = titles[i];
  wrap.appendChild(t);

  const xl = document.createElement("div");
  xl.className = "xlab"; xl.style.top = (264 + top) + "px"; xl.textContent = "Year";
  wrap.appendChild(xl);

  const yl = document.createElement("div");
  yl.className = "ylab"; yl.style.left = (20 - 140) + "px"; yl.style.top = (142 - 12 + top) + "px";
  yl.innerHTML = "Total O<sub>3</sub> &nbsp;Difference (%)";
  wrap.appendChild(yl);

  const lg = document.createElement("div");
  lg.className = "legend"; lg.style.top = (135 + top) + "px";
  const rows = [4, 26, 47.5, 69];
  seriesNames.forEach((n, k) => {
    const it = document.createElement("div");
    it.className = "it"; it.style.top = rows[k] + "px"; it.style.width = "120px";
    const dd = document.createElement("div"); dd.className = "dot"; dd.style.background = dotColors[k];
    const tx = document.createElement("div"); tx.className = "tx"; tx.textContent = n;
    it.appendChild(dd); it.appendChild(tx); lg.appendChild(it);
  });
  wrap.appendChild(lg);
});
</script>
</body></html>
